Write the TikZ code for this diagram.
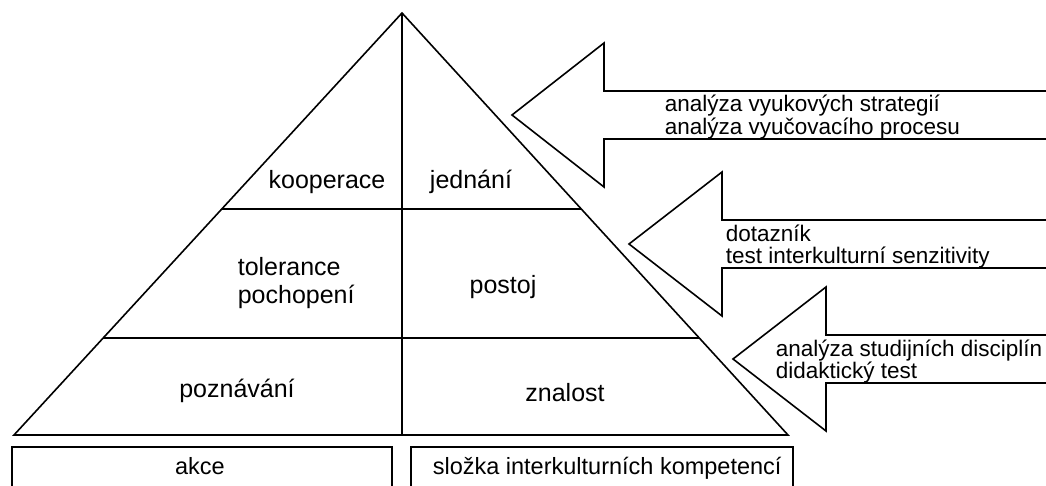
\documentclass[tikz,border=0pt]{standalone}
\usepackage{fontspec}
\setmainfont{Liberation Sans}
\begin{document}
\begin{tikzpicture}[x=1pt,y=-1pt, line width=1.6pt, line join=miter,
  lbl/.style={inner sep=0pt, anchor=base, font=\fontsize{25}{27}\selectfont},
  lblw/.style={inner sep=0pt, anchor=base west, font=\fontsize{25}{27}\selectfont},
  arrtxt/.style={inner sep=0pt, anchor=base west, font=\fontsize{22.5}{24}\selectfont},
  boxtxt/.style={inner sep=0pt, anchor=base, font=\fontsize{23.5}{26}\selectfont},
  boxtxtw/.style={inner sep=0pt, anchor=base west, font=\fontsize{23.5}{26}\selectfont}]
\useasboundingbox (0,0) rectangle (1046,486);
\clip (0,0) rectangle (1046,486);
% pyramid
\coordinate (apex) at (402,13);
\coordinate (bl) at (14,435);
\coordinate (br) at (788,435);
\coordinate (bm) at (402,435);
\coordinate (l1a) at (221.8,209);
\coordinate (l1b) at (581.3,209);
\coordinate (l2a) at (103.2,338);
\coordinate (l2b) at (699.3,338);
\draw (apex) -- (bl) -- (br) -- cycle;
\draw (apex) -- (bm);
\draw (l1a) -- (l1b);
\draw (l2a) -- (l2b);
% pyramid labels
\node[lbl] (koop) at (327,189) {kooperace};
\node[lbl] (jedn) at (471,189) {jednání};
\node[lblw] (tol) at (237,276) {tolerance};
\node[lblw] (poch) at (237,303) {pochopení};
\node[lbl] (post) at (503,293) {postoj};
\node[lbl] (pozn) at (237,397) {poznávání};
\node[lbl] (znal) at (565,401) {znalost};
% bottom boxes
\draw (12,500) |- (392,447) -- (392,500);
\draw (411,500) |- (793,447) -- (793,500);
\node[boxtxt] (akce) at (200,474) {akce};
\node[boxtxtw] (slozka) at (432,474) {složka interkulturních kompetencí};
% arrows
\draw (1060,91) -- (604,91) -- (604,43) -- (512,115) -- (604,187) -- (604,139) -- (1060,139);
\draw (1060,220) -- (722,220) -- (722,172) -- (629,244) -- (722,316) -- (722,268) -- (1060,268);
\draw (1060,335) -- (826,335) -- (826,287) -- (733,359) -- (826,431) -- (826,383) -- (1060,383);
% arrow texts
\node[arrtxt] (a1a) at (664,112) {analýza vyukových strategií};
\node[arrtxt] (a1b) at (664,134.5) {analýza vyučovacího procesu};
\node[arrtxt] (a2a) at (725,241.5) {dotazník};
\node[arrtxt] (a2b) at (725,263.5) {test interkulturní senzitivity};
\node[arrtxt] (a3a) at (775,356) {analýza studijních disciplín};
\node[arrtxt] (a3b) at (775,378) {didaktický test};
\end{tikzpicture}
\end{document}
